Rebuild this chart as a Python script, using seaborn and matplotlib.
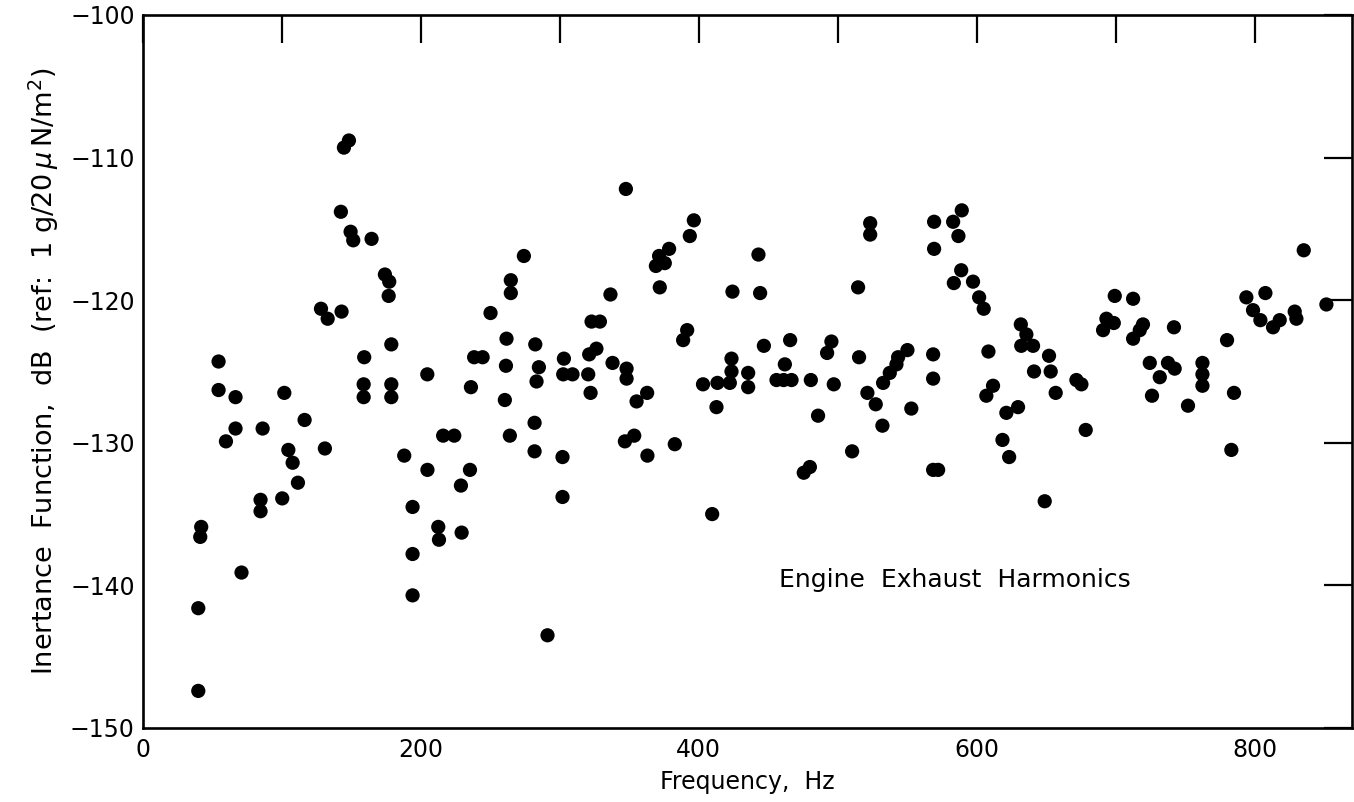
import matplotlib
matplotlib.use("Agg")
import matplotlib.pyplot as plt
import seaborn as sns
import pandas as pd

freq_hz = [
    39.8, 39.8, 41.9, 41.2, 54.4, 54.4, 59.7, 66.6, 66.6, 70.9,
    84.6, 84.6, 86.1, 100.2, 101.7, 104.6, 107.7, 111.5, 116.3, 128.1,
    130.9, 132.9, 142.4, 142.9, 144.6, 148.2, 149.4, 151.3, 158.8, 158.8,
    159.2, 164.5, 174.1, 176.8, 177.2, 178.7, 178.7, 178.7, 188.0, 194.0,
    194.0, 194.0, 204.6, 204.7, 212.5, 213.0, 216.0, 224.0, 228.8, 229.3,
    235.3, 236.0, 238.3, 244.4, 250.1, 260.4, 261.2, 261.6, 264.0, 264.7,
    264.7, 274.1, 281.8, 281.8, 282.3, 283.2, 284.9, 291.1, 301.9, 301.9,
    302.4, 302.9, 309.1, 320.4, 321.1, 322.1, 322.8, 326.3, 328.8, 336.4,
    337.9, 346.8, 347.5, 348.0, 348.0, 353.5, 355.2, 362.8, 363.0, 369.1,
    371.4, 371.9, 375.5, 378.6, 382.7, 388.7, 391.6, 393.5, 396.4, 403.0,
    409.6, 412.7, 413.4, 422.3, 423.5, 423.5, 424.2, 435.5, 435.5, 442.9,
    444.1, 446.8, 455.9, 461.0, 466.7, 461.9, 465.7, 475.5, 479.9, 480.6,
    485.8, 492.3, 495.4, 497.1, 510.3, 514.6, 515.3, 521.3, 523.3, 523.3,
    527.3, 532.1, 532.6, 537.4, 542.2, 543.4, 550.1, 552.9, 568.6, 568.6,
    568.6, 572.2, 569.3, 569.3, 583.0, 583.5, 586.8, 588.8, 589.2, 597.3,
    601.7, 605.0, 606.9, 608.4, 611.7, 618.5, 621.3, 623.3, 629.7, 631.7,
    632.0, 635.7, 640.5, 641.2, 648.9, 652.0, 653.2, 656.8, 671.7, 675.3,
    678.4, 690.9, 693.3, 698.6, 699.3, 712.5, 712.5, 717.3, 719.6, 724.5,
    726.1, 731.7, 737.6, 741.9, 742.4, 752.0, 762.4, 762.4, 762.4, 780.1,
    783.2, 785.1, 794.0, 798.8, 804.1, 807.7, 813.2, 818.0, 828.8, 830.0,
    835.3, 851.6,
]

inertance_db = [
    -141.6, -147.4, -135.9, -136.6, -124.3, -126.3, -129.9, -126.8, -129.0, -139.1,
    -134.0, -134.8, -129.0, -133.9, -126.5, -130.5, -131.4, -132.8, -128.4, -120.6,
    -130.4, -121.3, -113.8, -120.8, -109.3, -108.8, -115.2, -115.8, -125.9, -126.8,
    -124.0, -115.7, -118.2, -119.7, -118.7, -123.1, -125.9, -126.8, -130.9, -134.5,
    -137.8, -140.7, -125.2, -131.9, -135.9, -136.8, -129.5, -129.5, -133.0, -136.3,
    -131.9, -126.1, -124.0, -124.0, -120.9, -127.0, -124.6, -122.7, -129.5, -118.6,
    -119.5, -116.9, -128.6, -130.6, -123.1, -125.7, -124.7, -143.5, -131.0, -133.8,
    -125.2, -124.1, -125.2, -125.2, -123.8, -126.5, -121.5, -123.4, -121.5, -119.6,
    -124.4, -129.9, -112.2, -124.8, -125.5, -129.5, -127.1, -126.5, -130.9, -117.6,
    -116.9, -119.1, -117.4, -116.4, -130.1, -122.8, -122.1, -115.5, -114.4, -125.9,
    -135.0, -127.5, -125.8, -125.8, -124.1, -125.0, -119.4, -125.1, -126.1, -116.8,
    -119.5, -123.2, -125.6, -125.6, -125.6, -124.5, -122.8, -132.1, -131.7, -125.6,
    -128.1, -123.7, -122.9, -125.9, -130.6, -119.1, -124.0, -126.5, -114.6, -115.4,
    -127.3, -128.8, -125.8, -125.1, -124.5, -124.0, -123.5, -127.6, -123.8, -125.5,
    -131.9, -131.9, -114.5, -116.4, -114.5, -118.8, -115.5, -117.9, -113.7, -118.7,
    -119.8, -120.6, -126.7, -123.6, -126.0, -129.8, -127.9, -131.0, -127.5, -121.7,
    -123.2, -122.4, -123.2, -125.0, -134.1, -123.9, -125.0, -126.5, -125.6, -125.9,
    -129.1, -122.1, -121.3, -121.6, -119.7, -119.9, -122.7, -122.1, -121.7, -124.4,
    -126.7, -125.4, -124.4, -121.9, -124.8, -127.4, -124.4, -125.2, -126.0, -122.8,
    -130.5, -126.5, -119.8, -120.7, -121.4, -119.5, -121.9, -121.4, -120.8, -121.3,
    -116.5, -120.3,
]

x_ticks = [0, 100, 200, 300, 400, 500, 600, 700, 800]
x_tick_labels = ["0", "", "200", "", "400", "", "600", "", "800"]
y_ticks = [-150, -140, -130, -120, -110, -100]
y_tick_labels = ["\u2212150", "\u2212140", "\u2212130", "\u2212120", "\u2212110", "\u2212100"]

df = pd.DataFrame({"freq": freq_hz, "db": inertance_db})

sns.set_style("white")
plt.rcParams["font.family"] = ["DejaVu Sans"]
plt.rcParams["text.color"] = "black"
plt.rcParams["axes.labelcolor"] = "black"

fig = plt.figure(figsize=(13.54, 8.02), dpi=100)
ax = fig.add_axes([0.1056, 0.0923, 0.8929, 0.889])

sns.scatterplot(data=df, x="freq", y="db", ax=ax, color="black", s=105,
                linewidth=0, edgecolor="none", legend=False)

ax.set_xlim(0, 870)
ax.set_ylim(-150, -100)
ax.set_xticks(x_ticks)
ax.set_xticklabels(x_tick_labels)
ax.set_yticks(y_ticks)
ax.set_yticklabels(y_tick_labels)

for sp in ax.spines.values():
    sp.set_visible(True)
    sp.set_linewidth(1.9)
    sp.set_color("black")

ax.tick_params(axis="both", which="major", direction="in", length=20, width=1.6,
               top=True, right=True, labelsize=17, colors="black",
               labelcolor="black", pad=7)
ax.tick_params(axis="y", pad=6)

ax.set_xlabel("Frequency,  Hz", fontsize=17, labelpad=6, color="black")
ax.set_ylabel("Inertance  Function,  dB  (ref:  1 g/20$\\,\\mu\\,$N/m$^2$)",
              fontsize=19.5, labelpad=6, color="black")

ax.text(458, -139.6, "Engine  Exhaust  Harmonics", fontsize=18, ha="left",
        va="center", color="black")

fig.savefig("out.png", dpi=100)
